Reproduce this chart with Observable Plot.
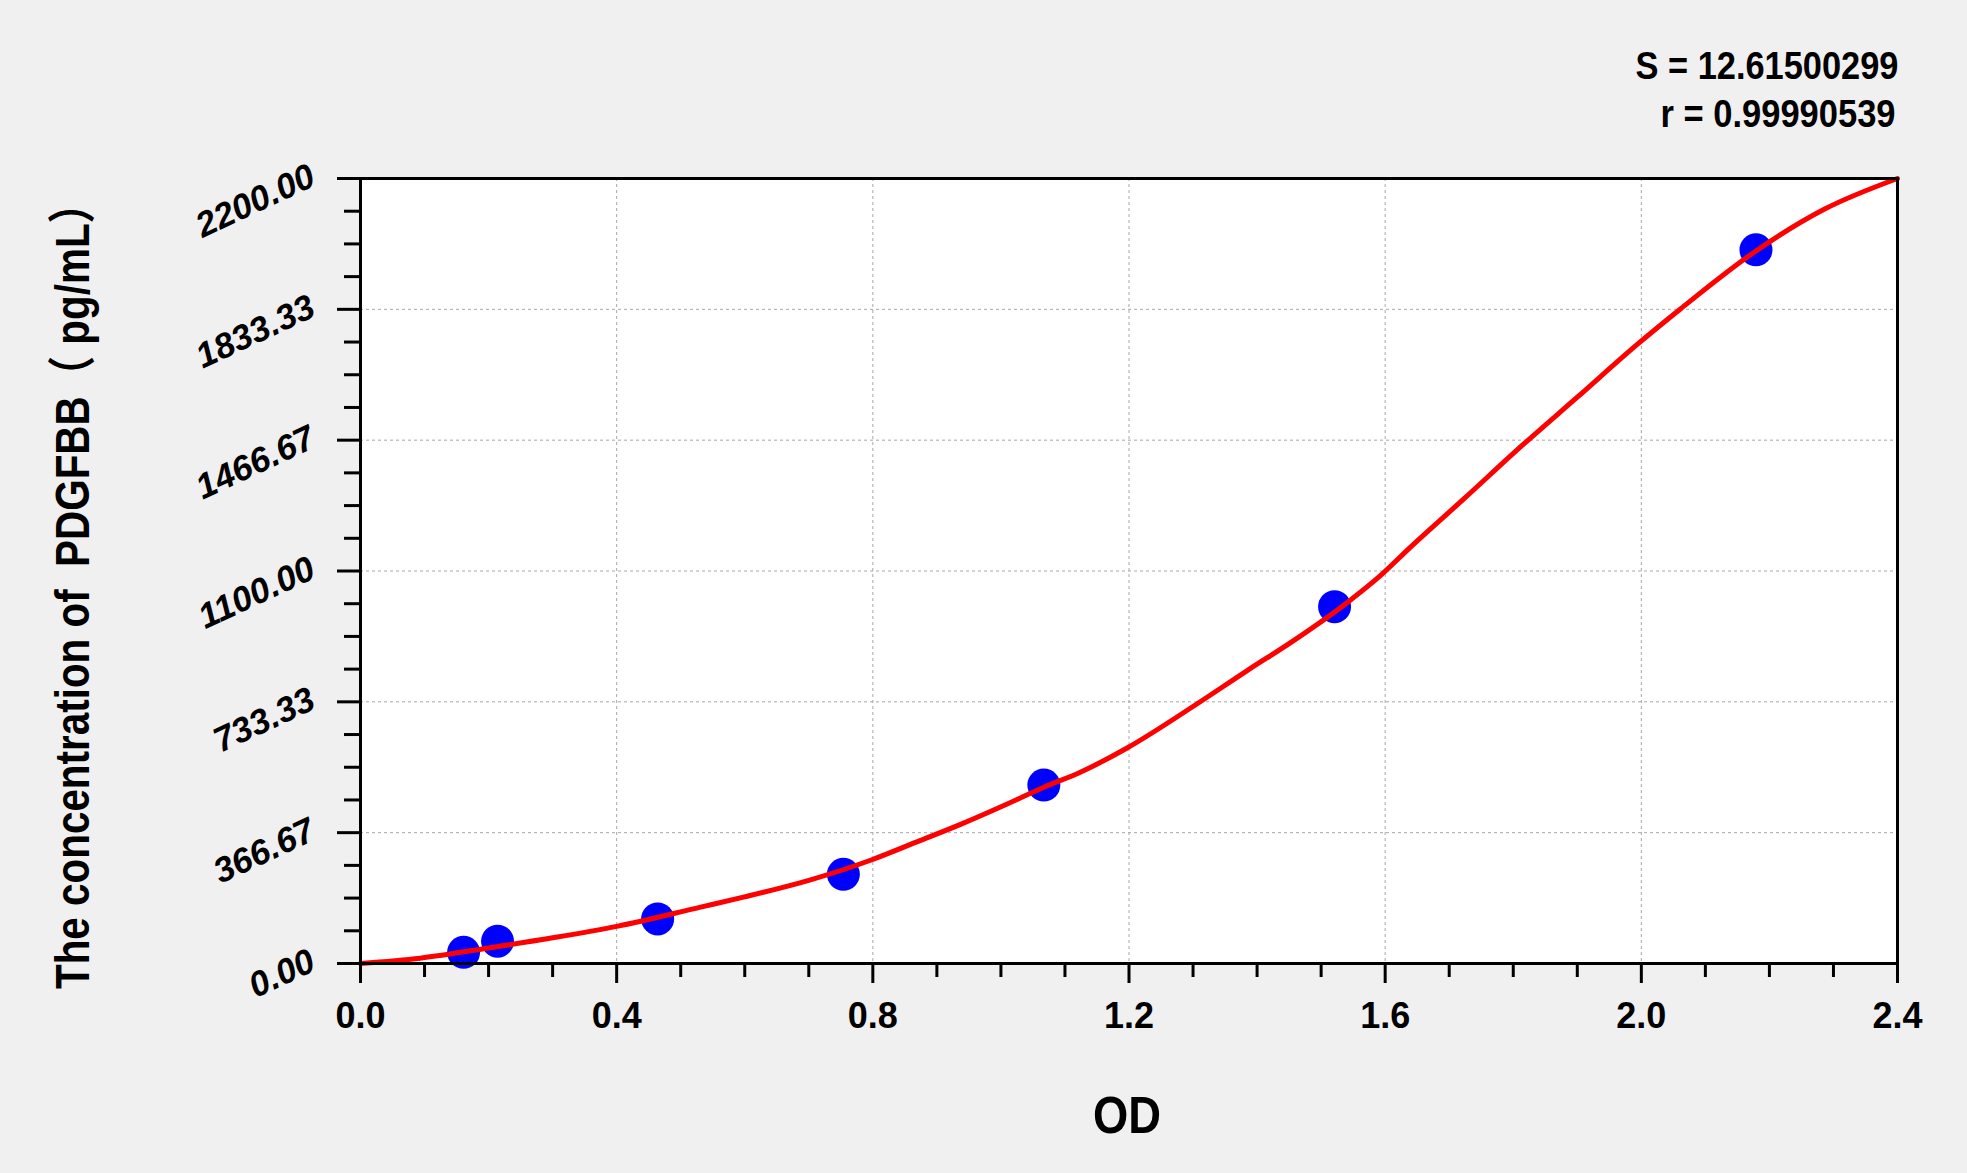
<!DOCTYPE html>
<html>
<head>
<meta charset="utf-8">
<script src="https://cdn.jsdelivr.net/npm/d3@7"></script>
<script src="https://cdn.jsdelivr.net/npm/@observablehq/plot@0.6"></script>
<style>
  html, body { margin: 0; padding: 0; background: #f0f0f0; }
  #chart { width: 1967px; height: 1173px; }
</style>
</head>
<body>
<div id="chart"></div>
<script>
// Standard points (OD vs concentration)
const stdOD   = [0.161, 0.214, 0.464, 0.754, 1.067, 1.521, 2.179];
const stdConc = [31.25, 62.5, 125, 250, 500, 1000, 2000];

// Fitted curve
const curveOD   = [0, 0.093, 0.205, 0.3, 0.4, 0.531, 0.598, 0.7, 0.7975, 0.8745, 0.937, 1.0098, 1.067, 1.124, 1.197, 1.3065, 1.3846, 1.457, 1.541, 1.5925, 1.6396, 1.7228, 1.8165, 1.9, 1.995, 2.0615, 2.175, 2.287, 2.4];
const curveConc = [0, 15, 45, 72, 104, 158, 186, 233, 290, 345, 390, 447, 494, 536, 604, 728, 821, 905, 1012, 1087, 1167, 1302, 1456, 1587, 1737, 1835, 1992, 2115, 2200];

// Axes
const xTicks = [0, 0.4, 0.8, 1.2, 1.6, 2.0, 2.4];
const xTickLabels = ["0.0", "0.4", "0.8", "1.2", "1.6", "2.0", "2.4"];
const xMinorTicks = [0.1, 0.2, 0.3, 0.5, 0.6, 0.7, 0.9, 1.0, 1.1, 1.3, 1.4, 1.5, 1.7, 1.8, 1.9, 2.1, 2.2, 2.3];
const yTicks = [0, 366.67, 733.33, 1100, 1466.67, 1833.33, 2200];
const yTickLabels = ["0.00", "366.67", "733.33", "1100.00", "1466.67", "1833.33", "2200.00"];
const yMinorTicks = [91.67, 183.33, 275, 458.33, 550, 641.67, 825, 916.67, 1008.33, 1191.67, 1283.33, 1375, 1558.33, 1650, 1741.67, 1925, 2016.67, 2108.33];

const statLines = ["S = 12.61500299", "r = 0.99990539"];
const xTitle = "OD";
const yTitle = "The concentration of  PDGFBB\uFF08 pg/mL\uFF09";

const points = stdOD.map((x, i) => ({x, y: stdConc[i]}));
const curve = curveOD.map((x, i) => ({x, y: curveConc[i]}));

const FONT = "Arial, 'Liberation Sans', 'Noto Sans CJK SC', sans-serif";

const chart = Plot.plot({
  width: 1967,
  height: 1173,
  marginLeft: 360,
  marginRight: 70,
  marginTop: 178,
  marginBottom: 210,
  style: {background: "transparent", fontFamily: FONT, color: "black"},
  x: {domain: [0, 2.4]},
  y: {domain: [0, 2200]},
  marks: [
    Plot.frame({fill: "white", stroke: null}),
    Plot.gridX(xTicks, {stroke: "#a8a8a8", strokeOpacity: 1, strokeWidth: 1, strokeDasharray: "3,3"}),
    Plot.gridY(yTicks, {stroke: "#a8a8a8", strokeOpacity: 1, strokeWidth: 1, strokeDasharray: "3,3"}),
    Plot.dot(points, {x: "x", y: "y", r: 16.5, fill: "#0000ff", stroke: null}),
    Plot.line(curve, {x: "x", y: "y", stroke: "#ff0000", strokeWidth: 5, curve: "monotone-x"}),
    Plot.frame({stroke: "black", strokeWidth: 3, fill: null}),
    Plot.axisX(xMinorTicks, {anchor: "bottom", tickSize: 14, strokeWidth: 3, fill: "none", label: null}),
    Plot.axisX(xTicks, {anchor: "bottom", tickSize: 20, strokeWidth: 3, tickPadding: 19,
      tickFormat: d => xTickLabels[xTicks.indexOf(d)], fontSize: 36, fontWeight: "bold", label: null}),
    Plot.axisY(yMinorTicks, {anchor: "left", tickSize: 16, strokeWidth: 3, fill: "none", label: null}),
    Plot.axisY(yTicks, {anchor: "left", tickSize: 23, strokeWidth: 3, fill: "none", label: null}),
    Plot.text(yTicks, {y: d => d, text: (d, i) => yTickLabels[i], frameAnchor: "left",
      textAnchor: "end", lineAnchor: "bottom", rotate: -25, dx: -43, dy: 6,
      fontSize: 35, fontWeight: "bold", fontStyle: "italic", fill: "black"}),
    Plot.text([statLines[0]], {text: d => d, frameAnchor: "top-right", textAnchor: "end", lineAnchor: "bottom",
      dx: 1, dy: -100, fontSize: 38, fontWeight: "bold", fill: "black", className: "stat-s"}),
    Plot.text([statLines[1]], {text: d => d, frameAnchor: "top-right", textAnchor: "end", lineAnchor: "bottom",
      dx: -2, dy: -52, fontSize: 38, fontWeight: "bold", fill: "black", className: "stat-r"}),
    Plot.text([xTitle], {text: d => d, frameAnchor: "bottom", textAnchor: "middle", lineAnchor: "bottom",
      dx: -2, dy: 169, fontSize: 52, fontWeight: "bold", fill: "black", className: "xtitle"}),
    Plot.text([yTitle], {text: d => d, frameAnchor: "left", textAnchor: "middle", lineAnchor: "bottom",
      rotate: -90, dx: -272, dy: 15, fontSize: 48, fontWeight: "bold", fill: "black", className: "ytitle"})
  ]
});

document.getElementById("chart").appendChild(chart);

function squeeze(cls, len) {
  chart.querySelectorAll("." + cls + " text").forEach(t => {
    t.setAttribute("textLength", len);
    t.setAttribute("lengthAdjust", "spacingAndGlyphs");
  });
}
squeeze("stat-s", 263);
squeeze("stat-r", 235);
squeeze("xtitle", 68);
squeeze("ytitle", 806);
</script>
</body>
</html>
